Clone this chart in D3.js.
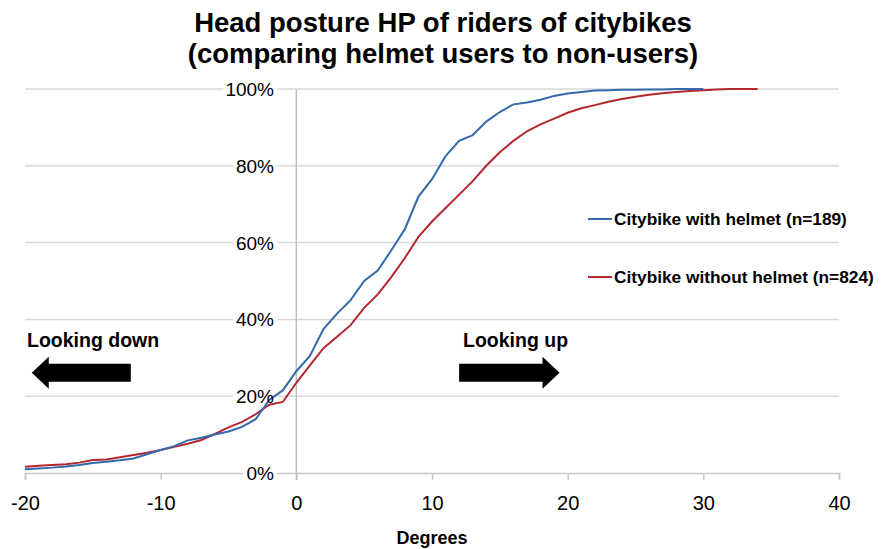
<!DOCTYPE html>
<html>
<head>
<meta charset="utf-8">
<script src="https://cdn.jsdelivr.net/npm/d3@7"></script>
<style>
  body { margin: 0; background: #fff; }
  text { font-family: "Liberation Sans", Arial, sans-serif; }
</style>
</head>
<body>
<div id="chart"></div>
<script>
"use strict";

// degrees at whole-degree steps
var degreesHelmet = [-20,-19,-18,-17,-16,-15,-14,-13,-12,-11,-10,-9,-8,-7,-6,-5,-4,-3,-2,-1,
  0,1,2,3,4,5,6,7,8,9,10,11,12,13,14,15,16,17,18,19,20,21,22,23,24,25,26,27,28,29,30];
var pctHelmet = [1.0,1.2,1.4,1.7,2.1,2.6,2.9,3.3,3.8,4.9,6.0,7.0,8.5,9.2,10.0,10.8,12.0,14.0,19.0,21.5,
  26.5,30.5,37.5,41.5,45.0,50.0,52.7,58.0,63.5,72.0,76.5,82.5,86.5,88.0,91.5,94.0,96.0,96.5,97.2,98.2,
  98.8,99.2,99.6,99.7,99.8,99.8,99.9,99.9,100,100,100];

var degreesNoHelmet = [-20,-19,-18,-17,-16,-15,-14,-13,-12,-11,-10,-9,-8,-7,-6,-5,-4,-3,-2,-1,
  0,1,2,3,4,5,6,7,8,9,10,11,12,13,14,15,16,17,18,19,20,21,22,23,24,25,26,27,28,29,30,31,32,33,34];
var pctNoHelmet = [1.6,1.9,2.1,2.3,2.7,3.4,3.5,4.1,4.7,5.3,6.0,6.8,7.6,8.6,10.2,11.9,13.3,15.3,17.8,18.5,
  23.5,28.0,32.5,35.5,38.5,43.0,46.5,51.0,56.0,61.5,65.5,69.0,72.5,76.0,80.0,83.5,86.5,89.0,90.8,92.3,
  93.8,95.0,95.8,96.7,97.4,98.0,98.5,98.9,99.2,99.5,99.7,99.9,100,100,100];

var seriesNames = ["Citybike with helmet (n=189)", "Citybike without helmet (n=824)"];
var seriesColors = ["#3469ac", "#b3282d"];

var xTicks = [-20, -10, 0, 10, 20, 30, 40];
var yTicks = [0, 20, 40, 60, 80, 100];

var titleLines = ["Head posture HP of riders of citybikes", "(comparing helmet users to non-users)"];

var W = 886, H = 549;
var x = d3.scaleLinear().domain([-20, 40]).range([25, 839]);
var y = d3.scaleLinear().domain([0, 100]).range([473, 89]);

var svg = d3.select("#chart").append("svg")
  .attr("width", W)
  .attr("height", H);

// title
svg.selectAll(".title").data(titleLines).enter().append("text")
  .attr("class", "title")
  .attr("x", 443)
  .attr("y", function(d, i) { return 32 + 31 * i; })
  .attr("text-anchor", "middle")
  .style("font-size", "27.5px")
  .style("font-weight", "bold")
  .text(function(d) { return d; });

// horizontal gridlines
svg.selectAll(".grid").data(yTicks.slice(1)).enter().append("line")
  .attr("class", "grid")
  .attr("x1", x(-20)).attr("x2", x(40))
  .attr("y1", function(d) { return y(d); })
  .attr("y2", function(d) { return y(d); })
  .attr("stroke", "#d9d9d9")
  .attr("stroke-width", 1.5);

// x axis
var xAxis = d3.axisBottom(x).tickValues(xTicks).tickSize(7).tickPadding(16)
  .tickFormat(function(d) { return String(d); });
var gx = svg.append("g")
  .attr("transform", "translate(0," + y(0) + ")")
  .call(xAxis);
gx.select(".domain").attr("stroke", "#c8c8c8").attr("stroke-width", 1.5);
gx.selectAll(".tick line").attr("stroke", "#c8c8c8").attr("stroke-width", 1.5);
gx.selectAll(".tick text")
  .style("font-size", "20px")
  .style("font-family", "Liberation Sans, Arial, sans-serif")
  .attr("fill", "#000");

// y axis line at 0 degrees
svg.append("line")
  .attr("x1", x(0)).attr("x2", x(0))
  .attr("y1", y(100)).attr("y2", y(0) + 7)
  .attr("stroke", "#bdbdbd")
  .attr("stroke-width", 1.5);

// y tick label backgrounds
var yLabelX = 274;
svg.selectAll(".ylabbg").data(yTicks).enter().append("text")
  .attr("class", "ylabbg")
  .attr("x", yLabelX)
  .attr("y", function(d) { return y(d) + 7; })
  .attr("text-anchor", "end")
  .style("font-size", "19px")
  .attr("fill", "#fff")
  .attr("stroke", "#fff")
  .attr("stroke-width", 8)
  .text(function(d) { return d + "%"; });

// lines
var line = d3.line()
  .x(function(d) { return x(d[0]); })
  .y(function(d) { return y(d[1]); });

var helmetData = d3.zip(degreesHelmet, pctHelmet);
var noHelmetData = d3.zip(degreesNoHelmet, pctNoHelmet);

svg.append("path")
  .datum(noHelmetData)
  .attr("d", line)
  .attr("fill", "none")
  .attr("stroke", seriesColors[1])
  .attr("stroke-width", 2);

svg.append("path")
  .datum(helmetData)
  .attr("d", line)
  .attr("fill", "none")
  .attr("stroke", seriesColors[0])
  .attr("stroke-width", 2);

// y tick labels
svg.selectAll(".ylab").data(yTicks).enter().append("text")
  .attr("class", "ylab")
  .attr("x", yLabelX)
  .attr("y", function(d) { return y(d) + 7; })
  .attr("text-anchor", "end")
  .style("font-size", "19px")
  .attr("fill", "#000")
  .text(function(d) { return d + "%"; });

// x axis title
svg.append("text")
  .attr("x", 432)
  .attr("y", 544)
  .attr("text-anchor", "middle")
  .style("font-size", "18px")
  .style("font-weight", "bold")
  .text("Degrees");

// legend
var legendY = [219, 277];
for (let i = 0; i < seriesNames.length; i++) {
  svg.append("line")
    .attr("x1", 588).attr("x2", 612)
    .attr("y1", legendY[i]).attr("y2", legendY[i])
    .attr("stroke", seriesColors[i])
    .attr("stroke-width", 2);
  svg.append("text")
    .attr("x", 614)
    .attr("y", legendY[i] + 6)
    .style("font-size", "17.3px")
    .style("font-weight", "bold")
    .text(seriesNames[i]);
}

// direction annotations (in data units)
function arrow(fromDeg, toDeg, pct) {
  var x0 = x(fromDeg), x1 = x(toDeg), yc = y(pct);
  var dir = x1 > x0 ? 1 : -1;
  var headLen = 17, bodyHalf = 9, headHalf = 16;
  var xh = x1 - dir * headLen;
  var pts = [
    [x0, yc - bodyHalf], [xh, yc - bodyHalf], [xh, yc - headHalf],
    [x1, yc], [xh, yc + headHalf], [xh, yc + bodyHalf], [x0, yc + bodyHalf]
  ];
  svg.append("path")
    .attr("d", d3.line()(pts) + "Z")
    .attr("fill", "#000");
}

svg.append("text")
  .attr("x", 27).attr("y", 347)
  .style("font-size", "19.5px")
  .style("font-weight", "bold")
  .text("Looking down");
arrow(-12.2, -19.5, 26.1);

svg.append("text")
  .attr("x", 463).attr("y", 347)
  .style("font-size", "19.5px")
  .style("font-weight", "bold")
  .text("Looking up");
arrow(12.0, 19.4, 26.1);
</script>
</body>
</html>
